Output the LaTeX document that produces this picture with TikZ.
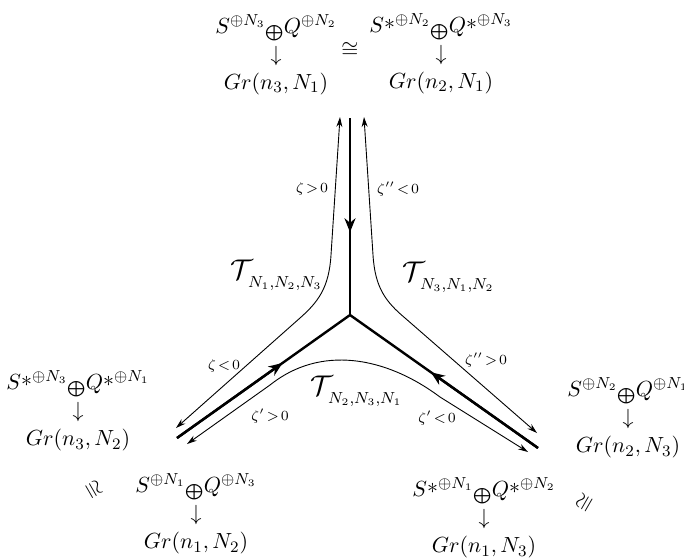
\documentclass[tikz,border=0pt]{standalone}
\usepackage{amsmath, amssymb}
\usetikzlibrary{arrows.meta, calc}
\tikzset{
  leg/.style={line width=1.2pt},
  flow/.style={line width=0.45pt, {Stealth[length=5pt,width=3pt]}-{Stealth[length=5pt,width=3pt]}},
  bundle/.style={align=center, inner sep=0pt, font=\fontsize{11}{14}\selectfont},
  zlab/.style={inner sep=0pt, font=\scriptsize},
  tlab/.style={inner sep=0pt, font=\fontsize{11}{13.5}\selectfont}
}
\newcommand{\Tlab}[1]{$\scalebox{1.3}{$\mathcal{T}$}\kern-2.5pt\raisebox{-4pt}{$\scriptstyle #1$}$}
\newcommand{\bplus}{\raisebox{-1.5pt}{$\scriptstyle\bigoplus$}}
\newcommand{\sst}{\raisebox{1.5pt}{$\ast$}}

\begin{document}
\begin{tikzpicture}[x=0.5pt, y=-0.5pt, >=Stealth]
  \useasboundingbox (0,0) rectangle (684,558);
  % vertex and ends of the legs
  \coordinate (v)  at (350,315);
  \coordinate (eT) at (350,118);
  \coordinate (eL) at (177,438);
  \coordinate (eR) at (538,448);
  % thick legs with arrows toward the vertex
  \foreach \e/\f in {eT/0.58, eL/0.61, eR/0.57} {
    \draw[leg] (\e) -- (v);
    \draw[leg, -{Stealth[length=7pt,width=5.5pt]}] (\e) -- ($(\e)!\f!(v)$);
  }
  % ends of the flow lines
  \coordinate (fL1) at (176,428);
  \coordinate (fL2) at (340,117);
  \coordinate (fR1) at (364,117);
  \coordinate (fR2) at (537,433);
  \coordinate (fB1) at (187,444);
  \coordinate (fB2) at (528,452);
  % flow lines
  \draw[flow] (fL1) -- (300,318) .. controls (318,302) and (329,288) .. (331,255) -- (fL2);
  \draw[flow] (fR1) -- (373,255) .. controls (375,288) and (386,302) .. (405,318) -- (fR2);
  \draw[flow] (fB1) -- (270,385) .. controls (320,345) and (385,356) .. (440,397) -- (fB2);
  % flow labels
  \node[zlab] (z1) at (312,189) {$\zeta\!>\!0$};
  \node[zlab] (z2) at (398,189) {$\zeta''\!<\!0$};
  \node[zlab] (z3) at (224,366) {$\zeta\!<\!0$};
  \node[zlab] (z4) at (270,416) {$\zeta'\!>\!0$};
  \node[zlab] (z5) at (486,360) {$\zeta''\!>\!0$};
  \node[zlab] (z6) at (437,418) {$\zeta'\!<\!0$};
  % regions
  \node[tlab] (t123) at (276,275) {\Tlab{N_1,N_2,N_3}};
  \node[tlab] (t312) at (448,277) {\Tlab{N_3,N_1,N_2}};
  \node[tlab] (t231) at (356,391) {\Tlab{N_2,N_3,N_1}};
  % bundles at the top
  \node[bundle] (b31) at (276,55) {$S^{\oplus N_3}\bplus Q^{\oplus N_2}$\\$\downarrow$\\$Gr(n_3,N_1)$};
  \node[bundle] (b21) at (441,54) {$S\sst^{\oplus N_2}\bplus Q\sst^{\oplus N_3}$\\$\downarrow$\\$Gr(n_2,N_1)$};
  \node[bundle] (iso1) at (350,50) {$\cong$};
  % bundles at the left
  \node[bundle] (b32) at (78,411) {$S\sst^{\oplus N_3}\bplus Q\sst^{\oplus N_1}$\\$\downarrow$\\$Gr(n_3,N_2)$};
  \node[bundle] (b12) at (196,514) {$S^{\oplus N_1}\bplus Q^{\oplus N_3}$\\$\downarrow$\\$Gr(n_1,N_2)$};
  \node[bundle, rotate=-60] (iso2) at (93,490) {$\cong$};
  % bundles at the right
  \node[bundle] (b23) at (628,418) {$S^{\oplus N_2}\bplus Q^{\oplus N_1}$\\$\downarrow$\\$Gr(n_2,N_3)$};
  \node[bundle] (b13) at (484,518) {$S\sst^{\oplus N_1}\bplus Q\sst^{\oplus N_2}$\\$\downarrow$\\$Gr(n_1,N_3)$};
  \node[bundle, rotate=60] (iso3) at (585,503) {$\cong$};
\end{tikzpicture}
\end{document}
